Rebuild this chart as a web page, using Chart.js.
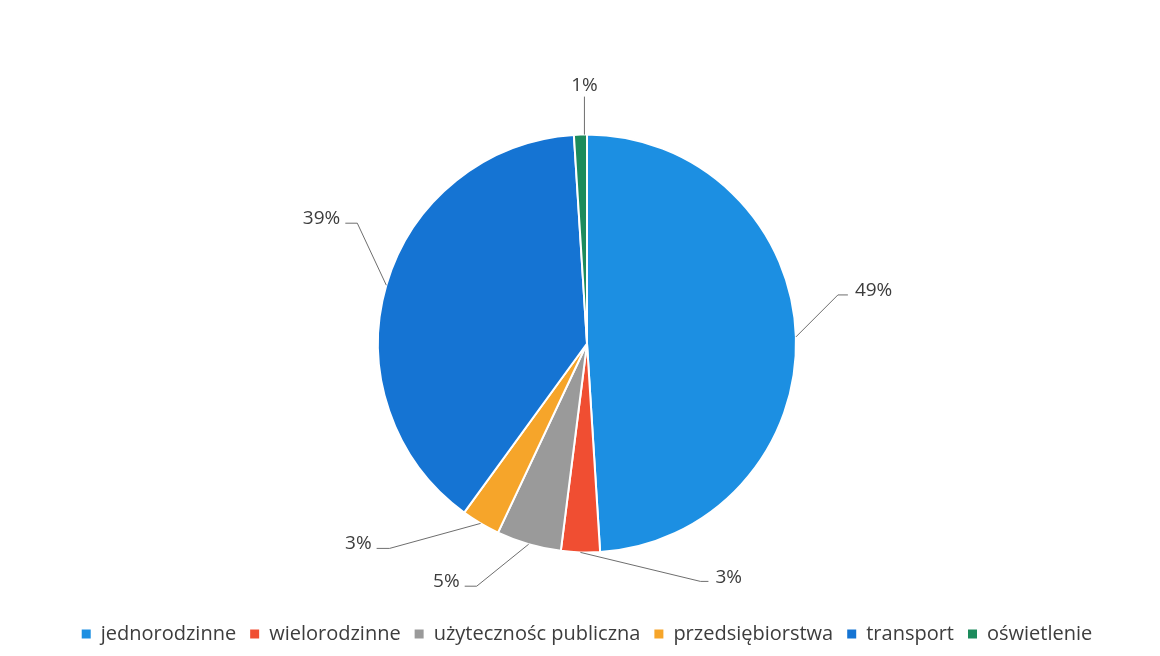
<!DOCTYPE html>
<html lang="pl">
<head>
<meta charset="utf-8">
<title>Struktura zużycia energii</title>
<script src="https://cdn.jsdelivr.net/npm/chart.js@4/dist/chart.umd.min.js"></script>
<style>
  html, body { margin: 0; padding: 0; background: #ffffff; }
  #wrap { width: 1160px; height: 656px; }
</style>
</head>
<body>
<div id="wrap"><canvas id="pie" width="1160" height="656"></canvas></div>
<script>
// Sectors and their shares (%)
const categories = ['jednorodzinne', 'wielorodzinne', 'użytecznośc publiczna', 'przedsiębiorstwa', 'transport', 'oświetlenie'];
const shares = [49, 3, 5, 3, 39, 1];
const shareLabels = ['49%', '3%', '5%', '3%', '39%', '1%'];

const sliceColors = ['#1c8fe2', '#f04e32', '#9a9a9a', '#f6a52a', '#1574d3', '#1c8b5c'];

// Leader line layout for each label: elbow offset from the arc edge,
// horizontal tail length, and text alignment.
const leaderStyle = [
  { dx: 42, dy: -42, tail: 10, align: 'left' },
  { dx: 120, dy: 29, tail: 8, align: 'left' },
  { dx: -52, dy: 42, tail: -12, align: 'right' },
  { dx: -91, dy: 25, tail: -13, align: 'right' },
  { dx: -29, dy: -62, tail: -12, align: 'right' },
  { dx: 0, dy: -38, tail: 0, align: 'top', shift: 4 }
];

const leaderLabels = {
  id: 'leaderLabels',
  afterDatasetsDraw(chart) {
    const ctx = chart.ctx;
    const meta = chart.getDatasetMeta(0);
    ctx.save();
    ctx.font = '19px "Open Sans", "Noto Sans", sans-serif';
    ctx.fillStyle = '#3d3d3d';
    meta.data.forEach((arc, i) => {
      const p = arc.getProps(['x', 'y', 'startAngle', 'endAngle', 'outerRadius'], true);
      const mid = (p.startAngle + p.endAngle) / 2;
      const st = leaderStyle[i];
      const sx = p.x + Math.cos(mid) * p.outerRadius + (st.shift || 0);
      const sy = p.y + Math.sin(mid) * p.outerRadius;
      const ex = sx + st.dx, ey = sy + st.dy;
      const tx = ex + st.tail;
      ctx.strokeStyle = '#6e6e6e';
      ctx.lineWidth = 1;
      ctx.beginPath();
      ctx.moveTo(sx, sy);
      ctx.lineTo(ex, ey);
      ctx.lineTo(tx, ey);
      ctx.stroke();
      if (st.align === 'left') {
        ctx.textAlign = 'left';
        ctx.textBaseline = 'middle';
        ctx.fillText(shareLabels[i], tx + 7, ey - 4);
      } else if (st.align === 'right') {
        ctx.textAlign = 'right';
        ctx.textBaseline = 'middle';
        ctx.fillText(shareLabels[i], tx - 5, ey - 5);
      } else {
        ctx.textAlign = 'center';
        ctx.textBaseline = 'bottom';
        ctx.fillText(shareLabels[i], ex, ey - 2);
      }
    });
    ctx.restore();
  }
};

const whiteBg = {
  id: 'whiteBg',
  beforeDraw(chart) {
    const ctx = chart.ctx;
    ctx.save();
    ctx.fillStyle = '#ffffff';
    ctx.fillRect(0, 0, chart.width, chart.height);
    ctx.restore();
  }
};

new Chart(document.getElementById('pie'), {
  type: 'pie',
  data: {
    labels: categories,
    datasets: [{
      data: shares,
      backgroundColor: sliceColors,
      borderColor: '#ffffff',
      borderWidth: 2,
      radius: 209
    }]
  },
  options: {
    responsive: false,
    animation: false,
    layout: { padding: { top: 77, bottom: 2, left: 14, right: 0 } },
    plugins: {
      tooltip: { enabled: false },
      legend: {
        display: true,
        position: 'bottom',
        labels: {
          boxWidth: 9,
          boxHeight: 9,
          padding: 14,
          color: '#3d3d3d',
          font: { family: '"Open Sans", "Noto Sans", sans-serif', size: 20 },
          generateLabels(chart) {
            const base = Chart.overrides.pie.plugins.legend.labels.generateLabels(chart);
            return base.map(item => Object.assign(item, { lineWidth: 0, strokeStyle: item.fillStyle }));
          }
        }
      }
    }
  },
  plugins: [whiteBg, leaderLabels]
});
</script>
</body>
</html>
